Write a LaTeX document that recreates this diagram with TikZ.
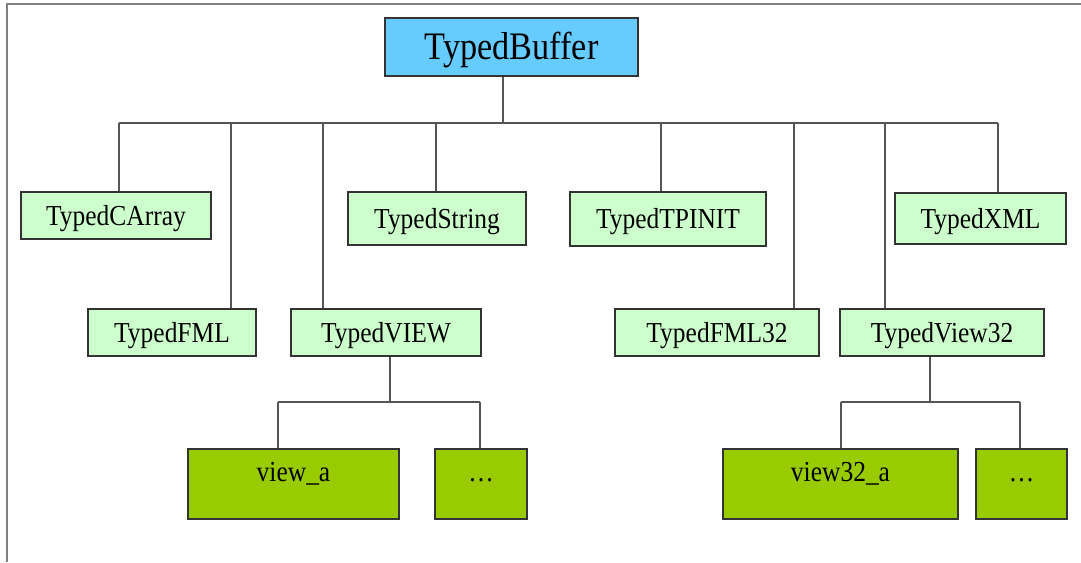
\documentclass[tikz,border=0pt]{standalone}
\usepackage{fontspec}
\setmainfont{Liberation Serif}[FakeStretch=0.88]
\usepackage{xcolor}
\usepackage{tikz}

\definecolor{bufblue}{HTML}{66CCFF}
\definecolor{typegreen}{HTML}{CCFFCC}
\definecolor{leafgreen}{HTML}{99CC00}
\definecolor{boxline}{HTML}{333333}
\definecolor{wireline}{HTML}{555555}
\definecolor{frameline}{HTML}{808080}

\begin{document}
\begin{tikzpicture}[
	box/.style={draw=boxline,line width=1.2pt,inner sep=0pt,minimum height=1.175cm,
		text height=16.4pt,text depth=2.8pt,font=\fontsize{20.6}{24}\selectfont},
	rootbox/.style={box,fill=bufblue,text height=22pt,text depth=4.6pt,font=\fontsize{27.7}{32}\selectfont},
	typebox/.style={box,fill=typegreen},
	leafbox/.style={box,fill=leafgreen,minimum height=1.75cm,text height=14.4pt,text depth=18.5pt},
	wire/.style={draw=wireline,line width=1.2pt}]
	\useasboundingbox (0,0) rectangle (27.025,-14.05);
	\draw[frameline,line width=1.6pt] (0.175,-14.05) -- (0.175,-0.1) -- (27.025,-0.1);
	% root
	\node[rootbox,minimum width=6.325cm,minimum height=1.45cm] (buffer) at (12.7875cm,-1.175cm) {TypedBuffer};
	% first row
	\node[typebox,minimum width=4.75cm] (carray) at (2.9cm,-5.3875cm) {TypedCArray};
	\node[typebox,minimum width=4.45cm,minimum height=1.325cm] (string) at (10.925cm,-5.4625cm) {TypedString};
	\node[typebox,minimum width=4.9cm,minimum height=1.35cm] (tpinit) at (16.7cm,-5.475cm) {TypedTPINIT};
	\node[typebox,minimum width=4.275cm,minimum height=1.275cm] (xml) at (24.5125cm,-5.4625cm) {TypedXML};
	% second row
	\node[typebox,minimum width=4.2cm] (fml) at (4.3cm,-8.3125cm) {TypedFML};
	\node[typebox,minimum width=4.75cm] (view) at (9.65cm,-8.3125cm) {TypedVIEW};
	\node[typebox,minimum width=5.1cm] (fml32) at (17.925cm,-8.3125cm) {TypedFML32};
	\node[typebox,minimum width=5.1cm] (view32) at (23.55cm,-8.3125cm) {TypedView32};
	% views
	\node[leafbox,minimum width=5.275cm] (viewa) at (7.3375cm,-12.1cm) {view\_a};
	\node[leafbox,minimum width=2.3cm] (viewmore) at (12.025cm,-12.1cm) {\dots};
	\node[leafbox,minimum width=5.875cm] (view32a) at (21.0125cm,-12.1cm) {view32\_a};
	\node[leafbox,minimum width=2.275cm] (view32more) at (25.5375cm,-12.1cm) {\dots};
	% buses
	\coordinate (bus) at (12.575cm,-3.075cm);
	\coordinate (viewbus) at (9.75cm,-10.05cm);
	\coordinate (view32bus) at (23.25cm,-10.05cm);
	\draw[wire] (bus |- buffer.south) -- (bus);
	\draw[wire] (2.975cm,-3.075cm) -- (24.95cm,-3.075cm);
	\foreach \n/\x in {carray/2.975,fml/5.775,view/8.075,string/10.9,tpinit/16.525,fml32/19.85,view32/22.125,xml/24.95}
		\draw[wire] (\x cm,-3.075cm) -- (\x cm,-3.075cm |- \n.north);
	\draw[wire] (viewbus |- view.south) -- (viewbus);
	\draw[wire] (6.95cm,-10.05cm) -- (12cm,-10.05cm);
	\foreach \n/\x in {viewa/6.95,viewmore/12}
		\draw[wire] (\x cm,-10.05cm) -- (\x cm,-10.05cm |- \n.north);
	\draw[wire] (view32bus |- view32.south) -- (view32bus);
	\draw[wire] (21.025cm,-10.05cm) -- (25.5cm,-10.05cm);
	\foreach \n/\x in {view32a/21.025,view32more/25.5}
		\draw[wire] (\x cm,-10.05cm) -- (\x cm,-10.05cm |- \n.north);
\end{tikzpicture}
\end{document}
